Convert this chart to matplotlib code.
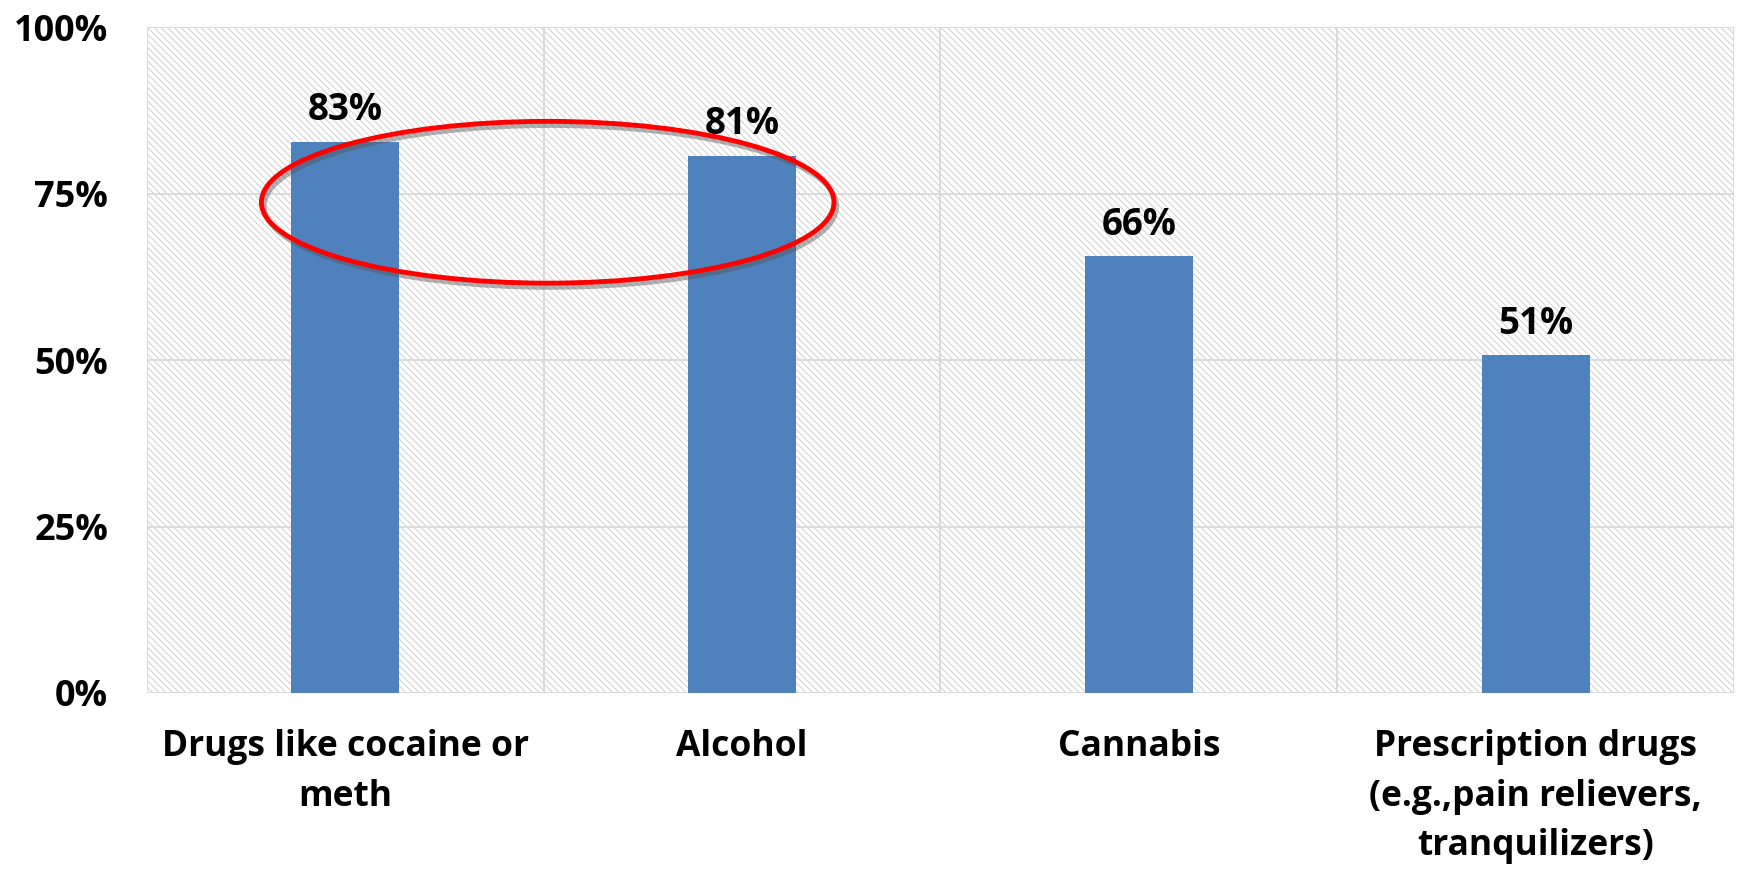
import matplotlib
matplotlib.use("Agg")
import matplotlib.pyplot as plt
import matplotlib.patheffects as pe
from matplotlib.patches import Ellipse, Rectangle
import numpy as np

categories = ["Drugs like cocaine or\nmeth", "Alcohol", "Cannabis",
              "Prescription drugs\n(e.g.,pain relievers,\ntranquilizers)"]
values = [82.8, 80.7, 65.6, 50.7]
labels = ["83%", "81%", "66%", "51%"]
y_ticks = [0, 25, 50, 75, 100]
y_ticklabels = ["0%", "25%", "50%", "75%", "100%"]

plt.rcParams['font.family'] = ['Open Sans', 'DejaVu Sans']
plt.rcParams['hatch.linewidth'] = 0.6
plt.rcParams['hatch.color'] = '#c8c8c8'

fig = plt.figure(figsize=(17.41, 8.75), dpi=100)
ax = fig.add_axes([0.0844, 0.208, 0.9116, 0.761])

x = np.arange(len(categories))
ax.set_xlim(-0.5, len(categories) - 0.5)
ax.set_ylim(0, 100)

# hatched background
bg = Rectangle((0, 0), 1, 1, transform=ax.transAxes, facecolor='white',
               edgecolor='#c8c8c8', hatch='\\\\\\\\\\', linewidth=0, zorder=0)
ax.add_patch(bg)

# grid
for yv in y_ticks:
    ax.axhline(yv, color='#d9d9d9', lw=1.3, zorder=1)
for xv in np.arange(-0.5, len(categories), 1.0):
    ax.axvline(xv, color='#d9d9d9', lw=1.3, zorder=1)

ax.bar(x, values, width=0.272, color='#4F81BD', zorder=2)
for xi, v, lab in zip(x, values, labels):
    ax.annotate(lab, (xi, v), xytext=(0, 9), textcoords='offset points',
                ha='center', va='bottom', fontsize=26.5, fontweight='bold')

# red highlight ellipse
ell = Ellipse((0.51, 73.7), 1.443, 24.3, fill=False, edgecolor='red',
              linewidth=3.5, zorder=3)
ell.set_path_effects([pe.SimpleLineShadow(offset=(2, -3), shadow_color='#555555', alpha=0.45),
                      pe.Normal()])
ax.add_patch(ell)

ax.set_yticks(y_ticks)
ax.set_yticklabels(y_ticklabels, fontsize=26, fontweight='bold')
ax.set_xticks(x)
ax.set_xticklabels(categories, fontsize=25.5, fontweight='bold', linespacing=1.5)
ax.tick_params(axis='both', length=0)
ax.tick_params(axis='y', pad=28)
ax.tick_params(axis='x', pad=26)
for s in ax.spines.values():
    s.set_visible(False)

fig.savefig("out.png", dpi=100)
